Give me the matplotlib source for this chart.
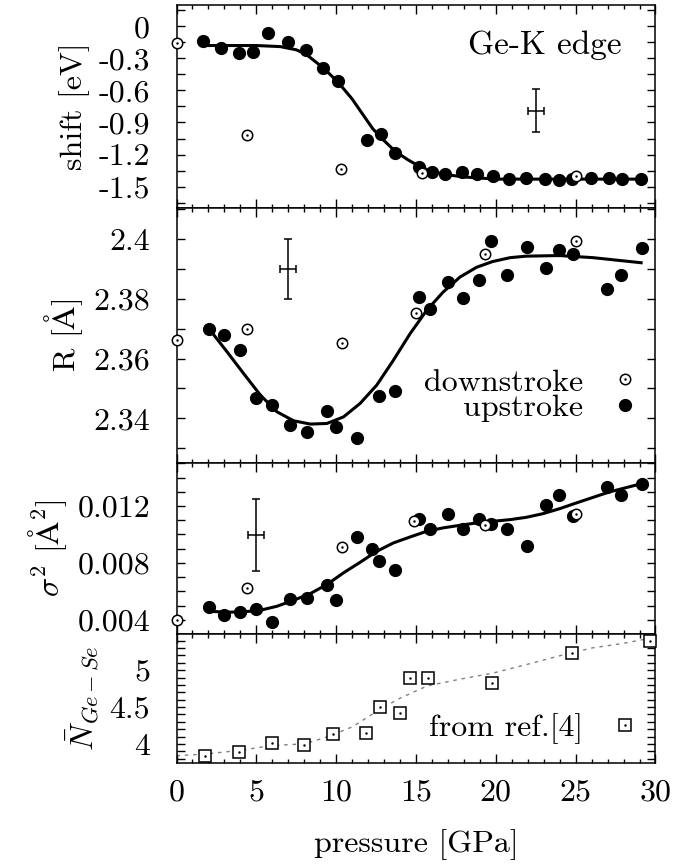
import matplotlib
matplotlib.use("Agg")
import matplotlib.pyplot as plt
from matplotlib.ticker import MultipleLocator, FuncFormatter

plt.rcParams['font.family'] = 'serif'
plt.rcParams['font.serif'] = ['cmr10']
plt.rcParams['mathtext.fontset'] = 'cm'
plt.rcParams['axes.unicode_minus'] = False
plt.rcParams['axes.linewidth'] = 1.1

# ---- edge shift ----
shift_up_p = [1.67, 2.79, 3.9, 4.8, 5.71, 7.0, 8.1, 9.2, 10.1, 11.96, 12.8, 13.7, 15.19, 16.0,
              16.8, 17.9, 18.8, 19.8, 20.8, 21.9, 23.06, 23.96, 24.8, 25.98, 27.08, 27.9, 29.1]
shift_up = [-0.14, -0.20, -0.25, -0.245, -0.063, -0.144, -0.22, -0.39, -0.51, -1.06, -1.01, -1.19, -1.32, -1.36,
            -1.38, -1.36, -1.385, -1.40, -1.425, -1.42, -1.43, -1.435, -1.425, -1.42, -1.42, -1.43, -1.425]
shift_down_p = [0.0, 4.4, 10.3, 15.35, 25.04]
shift_down = [-0.16, -1.02, -1.34, -1.37, -1.40]
shift_fit_p = [1.7, 3.0, 5.0, 6.5, 7.0, 7.5, 8.1, 9.2, 10.1, 11.0, 11.6, 12.3, 13.0, 13.7, 14.5, 15.2,
               16.0, 17.0, 18.0, 19.0, 20.0, 24.0, 29.1]
shift_fit = [-0.18, -0.18, -0.18, -0.19, -0.205, -0.22, -0.26, -0.39, -0.52, -0.68, -0.81, -0.96, -1.07,
             -1.17, -1.25, -1.31, -1.36, -1.39, -1.41, -1.42, -1.43, -1.43, -1.43]
shift_err = (22.5, -0.79, 0.5, 0.2)

# ---- bond length R ----
r_up_p = [2.02, 3.0, 4.0, 5.0, 6.0, 7.1, 8.19, 9.4, 9.98, 11.3, 12.67, 13.69, 15.19, 15.88, 16.98,
          17.96, 18.96, 19.67, 20.67, 21.94, 23.17, 23.98, 24.83, 26.96, 27.85, 29.15]
r_up = [2.370, 2.3677, 2.363, 2.3467, 2.3444, 2.3378, 2.3353, 2.3425, 2.3372, 2.3333, 2.3474, 2.3491,
        2.3805, 2.3767, 2.3855, 2.3803, 2.3861, 2.3994, 2.3878, 2.3974, 2.3902, 2.3961, 2.3948, 2.3833,
        2.3878, 2.397]
r_down_p = [0.0, 4.42, 10.375, 14.98, 19.35, 25.04]
r_down = [2.3663, 2.370, 2.3652, 2.3752, 2.3948, 2.3992]
r_fit_p = [2.1, 3.17, 4.2, 5.25, 6.29, 7.33, 8.38, 9.42, 10.46, 11.5, 12.54, 13.58, 14.63, 15.67,
           16.7, 17.75, 18.8, 19.8, 20.9, 21.9, 24.0, 26.08, 29.1]
r_fit = [2.3695, 2.3622, 2.355, 2.3478, 2.3422, 2.3392, 2.3381, 2.3383, 2.3405, 2.345, 2.3511, 2.3594,
         2.3683, 2.3761, 2.3822, 2.3872, 2.3905, 2.3924, 2.3937, 2.3942, 2.3944, 2.3937, 2.392]
r_err = (7.0, 2.39, 0.5, 0.01)

# ---- sigma^2 ----
s2_up_p = [2.02, 3.0, 4.0, 5.0, 6.0, 7.1, 8.19, 9.4, 9.98, 11.3, 12.27, 12.67, 13.69, 15.19, 15.88,
           16.98, 17.96, 18.96, 19.67, 20.67, 21.94, 23.17, 23.98, 24.83, 26.96, 27.85, 29.15]
s2_up = [0.0049, 0.00432, 0.00453, 0.00477, 0.00383, 0.00547, 0.00554, 0.00643, 0.00542, 0.00985,
         0.00898, 0.00811, 0.00753, 0.01109, 0.01041, 0.01146, 0.01041, 0.01109, 0.01076, 0.01039,
         0.00917, 0.01209, 0.0128, 0.01127, 0.01333, 0.01275, 0.01356]
s2_down_p = [0.0, 4.42, 10.375, 14.9, 19.35, 25.04]
s2_down = [0.00397, 0.0062, 0.00912, 0.01097, 0.01064, 0.01144]
s2_fit_p = [2.02, 3.17, 4.2, 5.25, 6.29, 7.33, 8.38, 9.42, 10.46, 11.5, 12.54, 13.58, 14.63, 15.67,
            16.7, 17.75, 18.8, 19.8, 20.9, 21.9, 22.96, 24.0, 25.04, 26.08, 27.1, 29.1]
s2_fit = [0.0046, 0.00453, 0.00456, 0.00467, 0.00495, 0.00537, 0.00584, 0.00648, 0.0073, 0.00804,
          0.00881, 0.0094, 0.00982, 0.01022, 0.01046, 0.01064, 0.01081, 0.01092, 0.01104, 0.0112,
          0.01146, 0.01181, 0.01221, 0.0126, 0.01298, 0.01356]
s2_err = (5.0, 0.00996, 0.5, 0.0025)

# ---- coordination number from ref. [4] ----
n_p = [1.81, 3.94, 5.98, 8.0, 9.77, 11.85, 12.75, 14.0, 14.63, 15.77, 19.73, 24.77, 29.63]
n_val = [3.831, 3.891, 4.014, 3.99, 4.136, 4.145, 4.505, 4.413, 4.90, 4.90, 4.823, 5.236, 5.39]
n_line_p = [0, 1.8, 4, 6, 8, 9.5, 11, 12.75, 14, 15.7, 17.75, 19.8, 22, 24, 26, 28, 30]
n_line = [3.84, 3.863, 3.913, 3.98, 4.0, 4.10, 4.23, 4.47, 4.62, 4.786, 4.877, 4.959, 5.08, 5.195,
          5.30, 5.364, 5.446]

fs = 23
fig = plt.figure(figsize=(6.75, 8.64), dpi=100)
left, width = 0.2615, 0.7096
ax1 = fig.add_axes([left, 0.7593, width, 0.2350])
ax2 = fig.add_axes([left, 0.4638, width, 0.2955], sharex=ax1)
ax3 = fig.add_axes([left, 0.2662, width, 0.1976], sharex=ax1)
ax4 = fig.add_axes([left, 0.1172, width, 0.1490], sharex=ax1)
axes = [ax1, ax2, ax3, ax4]

fmt = FuncFormatter(lambda v, pos: '%g' % (round(v, 6) + 0.0))


def draw_panel(ax, up_p, up, down_p, down, fit_p, fit, err):
    ax.plot(fit_p, fit, color='black', lw=2.2, zorder=2)
    h_up, = ax.plot(up_p, up, 'o', color='black', ms=8.5, zorder=3, clip_on=False)
    h_dn, = ax.plot(down_p, down, 'o', mfc='white', mec='black', mew=1.1, ms=7.5, zorder=4, clip_on=False)
    h_dot, = ax.plot(down_p, down, '.', color='black', ms=1.5, zorder=5, clip_on=False)
    ax.errorbar([err[0]], [err[1]], xerr=[err[2]], yerr=[err[3]], fmt='none',
                ecolor='black', elinewidth=1.1, capsize=3, capthick=1.1)
    return h_up, (h_dn, h_dot)


draw_panel(ax1, shift_up_p, shift_up, shift_down_p, shift_down, shift_fit_p, shift_fit, shift_err)
h_up, h_dn = draw_panel(ax2, r_up_p, r_up, r_down_p, r_down, r_fit_p, r_fit, r_err)
draw_panel(ax3, s2_up_p, s2_up, s2_down_p, s2_down, s2_fit_p, s2_fit, s2_err)

ax4.plot(n_line_p, n_line, color='gray', lw=1.0, dashes=(2.5, 3.5), zorder=2)
h_sq, = ax4.plot(n_p, n_val, 's', mfc='white', mec='black', mew=1.1, ms=8, zorder=3, clip_on=False)
h_sqd, = ax4.plot(n_p, n_val, '.', color='black', ms=1.5, zorder=4, clip_on=False)

ax1.text(0.93, 0.80, 'Ge-K edge', transform=ax1.transAxes, ha='right', va='center', fontsize=24)

ax2.legend([h_dn, h_up], ['downstroke', 'upstroke'], loc='center right',
           bbox_to_anchor=(0.969, 0.266), markerfirst=False, frameon=False, fontsize=23,
           handlelength=1.0, handletextpad=0.8, labelspacing=-0.08, borderpad=0, borderaxespad=0)
ax4.legend([(h_sq, h_sqd)], ['from ref.[4]'], loc='center right',
           bbox_to_anchor=(0.969, 0.262), markerfirst=False, frameon=False, fontsize=23,
           handlelength=1.0, handletextpad=0.8, borderpad=0, borderaxespad=0)

ax1.set_ylim(-1.70, 0.2)
ax1.yaxis.set_major_locator(MultipleLocator(0.3))
ax1.yaxis.set_minor_locator(MultipleLocator(0.15))
ax2.set_ylim(2.325, 2.4103)
ax2.yaxis.set_major_locator(MultipleLocator(0.02))
ax2.yaxis.set_minor_locator(MultipleLocator(0.01))
ax3.set_ylim(0.003, 0.015)
ax3.yaxis.set_major_locator(MultipleLocator(0.004))
ax3.yaxis.set_minor_locator(MultipleLocator(0.001))
ax4.set_ylim(3.745, 5.49)
ax4.yaxis.set_major_locator(MultipleLocator(0.5))
ax4.yaxis.set_minor_locator(MultipleLocator(0.1))

ax1.set_xlim(0, 30)
ax1.xaxis.set_major_locator(MultipleLocator(5))
ax1.xaxis.set_minor_locator(MultipleLocator(1))

ylabels = ['shift [eV]', 'R [$\\mathrm{\\AA}$]', '$\\sigma^2$ [$\\mathrm{\\AA}^2$]', '$\\bar{N}_{Ge-Se}$']
for ax, lab in zip(axes, ylabels):
    ax.yaxis.set_major_formatter(fmt)
    ax.tick_params(which='both', direction='in', top=True, right=True, labelsize=fs)
    ax.tick_params(axis='y', which='both', length=5.8, width=1.0, pad=19)
    ax.tick_params(axis='x', which='major', length=6.3, width=1.0, pad=12)
    ax.tick_params(axis='x', which='minor', length=3.2, width=1.0)
    ax.set_ylabel(lab, fontsize=fs, labelpad=6)
    if ax is not ax4:
        ax.tick_params(axis='x', labelbottom=False)

ax4.set_xlabel('pressure [GPa]', fontsize=fs, labelpad=16)

fig.savefig('out.png', dpi=100)
